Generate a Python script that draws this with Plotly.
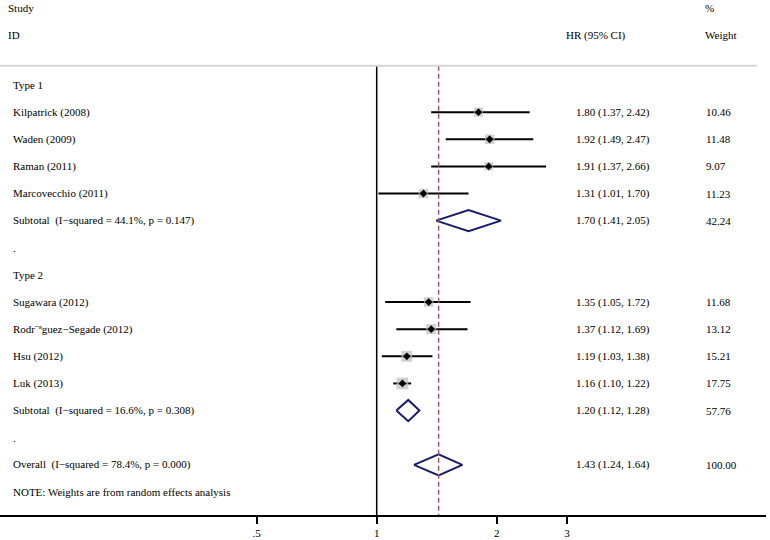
import math
import plotly.graph_objects as go

# ---- data ----
row_labels = ["Type 1", "Kilpatrick (2008)", "Waden (2009)", "Raman (2011)", "Marcovecchio (2011)",
              "Subtotal\u00a0\u00a0(I\u2212squared = 44.1%, p = 0.147)", ".", "Type 2",
              "Sugawara (2012)", "Rodr\u00a8\u00aaguez\u2212Segade (2012)", "Hsu (2012)", "Luk (2013)",
              "Subtotal\u00a0\u00a0(I\u2212squared = 16.6%, p = 0.308)", ".",
              "Overall\u00a0\u00a0(I\u2212squared = 78.4%, p = 0.000)",
              "NOTE: Weights are from random effects analysis"]
# rows that carry an estimate (index into row_labels)
est_rows = [1, 2, 3, 4, 5, 8, 9, 10, 11, 12, 14]
est_kind = ["study", "study", "study", "study", "pooled",
            "study", "study", "study", "study", "pooled", "pooled"]
hr = [1.80, 1.92, 1.91, 1.31, 1.70, 1.35, 1.37, 1.19, 1.16, 1.20, 1.43]
lo = [1.37, 1.49, 1.37, 1.01, 1.41, 1.05, 1.12, 1.03, 1.10, 1.12, 1.24]
hi = [2.42, 2.47, 2.66, 1.70, 2.05, 1.72, 1.69, 1.38, 1.22, 1.28, 1.64]
weight = [10.46, 11.48, 9.07, 11.23, 42.24, 11.68, 13.12, 15.21, 17.75, 57.76, 100.00]
tick_vals = [0.5, 1, 2, 3]
tick_text = [".5", "1", "2", "3"]

FONT = "Liberation Serif, Times New Roman, serif"
NAVY = "#1b1b6b"
TOP = -0.71
BOT = 15.85
YTOP = -3.133

fig = go.Figure()

s_idx = [i for i, k in enumerate(est_kind) if k == "study"]
sx = [hr[i] for i in s_idx]
sy = [est_rows[i] for i in s_idx]

# CI lines
fig.add_trace(go.Scatter(
    x=sx, y=sy, mode="markers",
    marker=dict(size=1, color="rgba(0,0,0,0)"),
    error_x=dict(type="data", symmetric=False,
                 array=[hi[i] - hr[i] for i in s_idx],
                 arrayminus=[hr[i] - lo[i] for i in s_idx],
                 width=0, thickness=2, color="black"),
    showlegend=False, hoverinfo="skip"))
# weight boxes
fig.add_trace(go.Scatter(
    x=sx, y=sy, mode="markers",
    marker=dict(symbol="square", size=[2.8 * math.sqrt(weight[i]) for i in s_idx],
                color="#bdbdbd", line=dict(width=0)),
    showlegend=False, hoverinfo="skip"))
# point estimates
fig.add_trace(go.Scatter(
    x=sx, y=sy, mode="markers",
    marker=dict(symbol="diamond", size=6, color="black"),
    showlegend=False, hoverinfo="skip"))

# pooled diamonds
for i, k in enumerate(est_kind):
    if k != "pooled":
        continue
    r = est_rows[i]
    h = 0.39
    fig.add_trace(go.Scatter(
        x=[lo[i], hr[i], hi[i], hr[i], lo[i]],
        y=[r, r - h, r, r + h, r],
        mode="lines", line=dict(color=NAVY, width=2),
        showlegend=False, hoverinfo="skip"))

# reference lines
fig.add_shape(type="line", xref="x", yref="y", x0=1, x1=1, y0=TOP, y1=BOT,
              line=dict(color="black", width=1.5))
fig.add_shape(type="line", xref="x", yref="y", x0=hr[-1], x1=hr[-1], y0=TOP, y1=BOT,
              line=dict(color="#9c5a6a", width=1.5, dash="5px,3px"))
fig.add_shape(type="line", xref="paper", yref="y", x0=0, x1=0.988, y0=TOP, y1=TOP,
              line=dict(color="#d6d6d6", width=2))

# text columns
def txt(x, y, s):
    fig.add_annotation(x=x, y=y, xref="paper", yref="y", text=s, showarrow=False,
                       xanchor="left", yanchor="middle",
                       font=dict(family=FONT, size=11, color="black"))

px = lambda p: p / 766.0
txt(px(6), -2.84, "Study")
txt(px(6), -1.84, "ID")
txt(px(564), -1.84, "HR (95% CI)")
txt(px(703), -2.84, "%")
txt(px(703), -1.84, "Weight")
for r, s in enumerate(row_labels):
    txt(px(11), r, s)
for i, r in enumerate(est_rows):
    txt(px(574), r, f"{hr[i]:.2f} ({lo[i]:.2f}, {hi[i]:.2f})")
    txt(px(704), r, f"{weight[i]:.2f}")

fig.update_layout(
    width=770, height=540,
    margin=dict(l=0, r=4, t=0, b=25),
    plot_bgcolor="white", paper_bgcolor="white",
    xaxis=dict(type="log", range=[-0.9451, 0.9767], showgrid=False, zeroline=False,
               showline=True, linecolor="black", linewidth=1.5,
               tickvals=tick_vals, ticktext=tick_text, ticks="outside",
               ticklen=7, tickwidth=1.5, tickcolor="black",
               tickfont=dict(family=FONT, size=11, color="black")),
    yaxis=dict(range=[BOT, YTOP], visible=False, showgrid=False, zeroline=False),
)
fig.write_html("out.html", config={"displayModeBar": False},
               post_script="document.body.style.margin='0';")
